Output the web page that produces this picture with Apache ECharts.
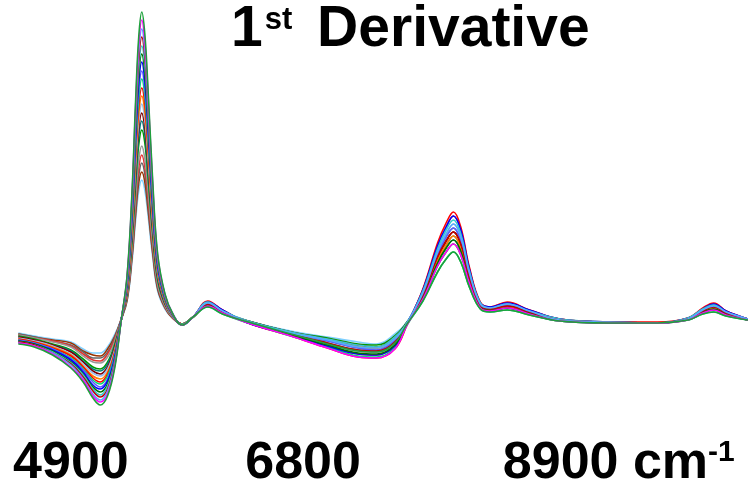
<!DOCTYPE html>
<html>
<head>
<meta charset="UTF-8">
<title>1st Derivative</title>
<script src="https://cdn.jsdelivr.net/npm/echarts@6/dist/echarts.min.js"></script>
<style>
    body { margin: 0; background: #fff; }
    #chart { width: 748px; height: 491px; }
</style>
</head>
<body>
<div id="chart"></div>
<script>
// 波数 (cm-1)
var wavenumbers = [4470, 4600, 4750, 4900, 5000, 5080, 5140, 5200, 5260, 5310,
    5360, 5400, 5430, 5455, 5480, 5505, 5530, 5570, 5610, 5670,
    5730, 5810, 5900, 6020, 6140, 6350, 6700, 7000, 7250, 7400,
    7550, 7650, 7780, 7900, 7970, 8030, 8090, 8160, 8250, 8330,
    8470, 8650, 8900, 9300, 9700, 9950, 10070, 10160, 10260, 10440];

// tick labels
var tickValues = [4900, 6800, 8900];

// spectra (1st derivative, arbitrary units)
var s01 = [-22,-25,-33,-46,-60,-76,-83,-74,-45,0,47,130,223,285,310,288,236,140,68,28,9,-3,5,15,8,0,-12,-22,-29,-30,-21,-2,21,50,63,70,60,35,13,10,12,7,1,-1,-1,2,8,10,6,2];
var s02 = [-21,-24,-32,-45,-58,-74,-80,-72,-43,0,46,127,217,277,302,280,230,136,66,27,9,-3,5,16,9,-1,-14,-26,-35,-36,-27,-3,23,56,70,78,67,39,14,11,14,8,1,-1,-1,2,9,12,7,2];
var s03 = [-21,-24,-31,-43,-57,-72,-78,-69,-42,0,44,123,211,270,293,272,223,132,64,27,9,-3,5,19,11,0,-11,-18,-25,-26,-17,-1,29,70,88,98,85,49,18,14,18,11,2,0,-1,3,12,16,10,3];
var s04 = [-20,-23,-31,-42,-55,-69,-75,-67,-40,0,43,120,205,262,285,265,217,129,62,26,8,-3,5,18,10,0,-12,-21,-28,-29,-20,-2,27,65,81,90,78,45,17,13,16,10,2,0,-1,3,11,15,9,3];
var s05 = [-20,-23,-30,-41,-53,-67,-73,-64,-38,0,42,116,199,254,276,257,210,125,61,25,8,-3,5,20,11,1,-10,-17,-23,-25,-15,-1,31,73,92,102,88,51,19,14,18,11,3,0,-1,4,13,17,10,3];
var s06 = [-19,-22,-29,-40,-52,-65,-70,-62,-37,1,41,113,193,247,268,249,204,121,59,24,8,-3,5,17,9,0,-13,-23,-31,-32,-23,-2,25,59,74,82,71,41,15,12,14,9,2,-1,-1,3,10,13,8,2];
var s07 = [-19,-22,-28,-38,-50,-63,-67,-59,-35,1,39,109,187,239,260,241,198,117,57,24,8,-3,5,20,12,-1,-13,-24,-32,-33,-24,-2,32,76,95,106,92,53,19,15,19,12,3,0,-1,4,13,18,11,3];
var s08 = [-18,-21,-27,-37,-48,-60,-65,-57,-33,1,38,106,181,231,251,233,191,113,55,23,7,-3,5,19,10,0,-11,-19,-26,-28,-18,-1,28,67,85,94,81,47,17,13,17,10,2,0,-1,3,12,15,9,3];
var s09 = [-18,-21,-27,-36,-47,-58,-62,-54,-32,1,37,102,175,223,243,226,185,110,53,22,7,-2,5,15,8,-1,-14,-25,-34,-35,-26,-3,21,50,63,70,60,35,13,10,12,7,1,-1,-1,2,8,10,6,2];
var s10 = [-17,-20,-26,-34,-45,-56,-60,-52,-30,1,35,99,169,216,234,218,178,106,51,21,7,-2,5,21,12,-1,-14,-26,-35,-36,-27,-3,33,79,99,110,95,55,20,15,20,12,3,0,0,4,14,19,11,3];
var s11 = [-17,-20,-25,-33,-44,-54,-57,-50,-29,1,34,95,163,208,226,210,172,102,50,21,7,-2,5,17,10,0,-11,-18,-25,-26,-17,-1,26,62,77,86,74,43,16,12,15,9,2,0,-1,3,10,14,8,2];
var s12 = [-16,-19,-24,-32,-42,-51,-54,-47,-27,1,33,92,156,200,218,202,166,98,48,20,6,-2,5,19,11,0,-12,-22,-29,-30,-21,-2,29,70,88,98,85,49,18,14,18,11,2,0,-1,3,12,16,10,3];
var s13 = [-15,-18,-23,-30,-40,-49,-52,-45,-25,1,31,88,150,193,209,194,159,94,46,19,6,-2,5,18,10,1,-10,-17,-23,-25,-15,-1,27,65,81,90,78,45,17,13,16,10,2,0,-1,3,11,15,9,3];
var s14 = [-15,-18,-23,-29,-39,-47,-49,-42,-24,1,30,85,144,185,201,187,153,91,44,18,6,-2,5,17,9,0,-12,-21,-28,-29,-20,-2,25,59,74,82,71,41,15,12,14,9,2,-1,-1,3,10,13,8,2];
var s15 = [-14,-17,-22,-28,-37,-45,-47,-40,-22,1,29,81,138,177,192,179,146,87,42,18,6,-2,5,16,9,1,-10,-16,-22,-23,-14,0,23,56,70,78,67,39,14,11,14,8,1,-1,-1,2,9,12,7,2];
var s16 = [-13,-16,-20,-25,-34,-40,-41,-35,-19,2,26,74,126,162,176,163,134,79,38,16,5,-2,5,19,10,0,-11,-19,-26,-28,-18,-1,28,67,85,94,81,47,17,13,17,10,2,0,-1,3,12,15,9,3];
var s17 = [-13,-16,-19,-24,-32,-38,-39,-32,-17,2,25,71,120,154,167,155,127,75,37,15,5,-2,5,20,12,-1,-13,-24,-32,-33,-24,-2,32,76,95,106,92,53,19,15,19,12,3,0,-1,4,13,18,11,3];
var s18 = [-12,-15,-19,-23,-30,-36,-36,-30,-15,2,24,67,114,146,159,148,121,72,35,15,5,-2,5,17,10,0,-11,-18,-25,-26,-17,-1,26,62,77,86,74,43,16,12,15,9,2,0,-1,3,10,14,8,2];
var s19 = [-12,-15,-18,-21,-29,-33,-34,-27,-14,2,22,64,108,139,150,140,114,68,33,14,4,-2,5,18,10,0,-12,-22,-29,-30,-21,-2,27,65,81,90,78,45,17,13,16,10,2,0,-1,3,11,15,9,3];
var s20 = [-11,-14,-17,-20,-27,-31,-31,-25,-12,2,21,60,102,131,142,132,108,64,31,13,4,-2,5,19,10,1,-9,-15,-20,-22,-12,0,28,67,85,94,81,47,17,13,17,10,2,0,-1,3,12,15,9,3];

var spectra = [s01, s02, s03, s04, s05, s06, s07, s08, s09, s10,
    s11, s12, s13, s14, s15, s16, s17, s18, s19, s20];

var colors = ['#1ea03c', '#ff00ff', '#55aaff', '#c00000', '#33cccc',
    '#007000', '#0000ff', '#5a5aff', '#00e070', '#ff0000',
    '#ff8000', '#99bbee', '#800000', '#008080', '#009900',
    '#999999', '#e63232', '#666666', '#993300', '#7fd0ff'];

var chart = echarts.init(document.getElementById('chart'));

var series = spectra.map(function (vals, i) {
    return {
        type: 'line',
        data: vals.map(function (v, j) { return [wavenumbers[j], v]; }),
        smooth: 0.4,
        showSymbol: false,
        lineStyle: { color: colors[i], width: 1.6 },
        z: 2 + (spectra.length - i)
    };
});

var font = '"Liberation Sans", Arial, sans-serif';

var option = {
    animation: false,
    backgroundColor: '#fff',
    title: {
        text: '{a|1}{b|st}{a| Derivative}',
        left: 231,
        top: 0,
        padding: 0,
        textStyle: {
            rich: {
                a: { fontFamily: font, fontWeight: 'bold', fontSize: 57, lineHeight: 60, color: '#000' },
                b: { fontFamily: font, fontWeight: 'bold', fontSize: 31, lineHeight: 31, color: '#000',
                     verticalAlign: 'top', padding: [5, 9, 0, 2] }
            }
        }
    },
    grid: { left: 0, right: 0, top: 2, bottom: 69 },
    xAxis: {
        type: 'value',
        min: 4320,
        max: 10440,
        axisLine: { show: false },
        axisTick: { show: false },
        splitLine: { show: false },
        axisLabel: {
            customValues: tickValues,
            margin: 16,
            formatter: function (v) {
                if (v === 8900) return '{p| }{n|8900}{n| cm}{s|-1}';
                return '{n|' + v + '}';
            },
            rich: {
                n: { fontFamily: font, fontWeight: 'bold', fontSize: 52, lineHeight: 52, color: '#000' },
                s: { fontFamily: font, fontWeight: 'bold', fontSize: 30, lineHeight: 30, color: '#000', verticalAlign: 'top' },
                p: { width: 118 }
            }
        }
    },
    yAxis: {
        type: 'value',
        min: -100,
        max: 320,
        show: false
    },
    series: series
};

chart.setOption(option);
</script>
</body>
</html>
